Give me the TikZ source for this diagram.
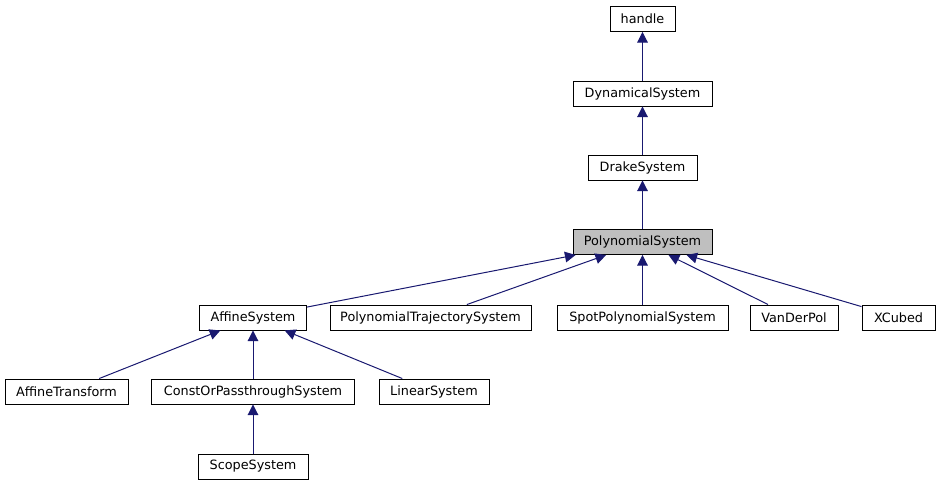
\documentclass[tikz,border=0pt]{standalone}
\usepackage{fontspec}
\setmainfont{DejaVu Sans}
\usetikzlibrary{arrows.meta}

\definecolor{edgeblue}{HTML}{191970}
\definecolor{boxgray}{HTML}{BFBFBF}

\tikzset{
    cls/.style={draw=black, line width=0.7pt, fill=white, inner sep=0pt,
        minimum height=18.75pt, font=\fontsize{9.6}{11}\selectfont},
    inherit/.style={draw=edgeblue, line width=0.75pt,
        -{Triangle[length=8pt,width=8pt]}}
}

\begin{document}
\begin{tikzpicture}[x=0.75pt,y=-0.75pt]
            \useasboundingbox (0,0) rectangle (943,485);

            \node[cls, minimum width=48.75pt] (handle) at (642.5,19) {handle};
            \node[cls, minimum width=104.25pt] (dyn) at (642.5,93.5) {DynamicalSystem};
            \node[cls, minimum width=81.75pt] (drake) at (642.5,167.5) {DrakeSystem};
            \node[cls, minimum width=104.25pt, fill=boxgray] (poly) at (642.5,242) {PolynomialSystem};

            \node[cls, minimum width=80.25pt] (affine) at (253,317.5) {AffineSystem};
            \node[cls, minimum width=150.75pt] (traj) at (430.5,317.5) {PolynomialTrajectorySystem};
            \node[cls, minimum width=128.25pt] (spot) at (642.5,317.5) {SpotPolynomialSystem};
            \node[cls, minimum width=66pt] (vdp) at (794,317.5) {VanDerPol};
            \node[cls, minimum width=54.75pt] (xcubed) at (898.5,317.5) {XCubed};

            \node[cls, minimum width=92.25pt] (transform) at (66.5,391.5) {AffineTransform};
            \node[cls, minimum width=152.25pt] (constor) at (253,391.5) {ConstOrPassthroughSystem};
            \node[cls, minimum width=82.5pt] (linear) at (434,391.5) {LinearSystem};

            \node[cls, minimum width=82.5pt] (scope) at (253,466.5) {ScopeSystem};

            \draw[inherit] (dyn) -- (handle);
            \draw[inherit] (drake) -- (dyn);
            \draw[inherit] (poly) -- (drake);

            \foreach \c in {affine,traj,spot,vdp,xcubed}{
                \draw[inherit] (\c) -- (poly);
            }
            \foreach \c in {transform,constor,linear}{
                \draw[inherit] (\c) -- (affine);
            }
            \draw[inherit] (scope) -- (constor);
        \end{tikzpicture}
\end{document}
